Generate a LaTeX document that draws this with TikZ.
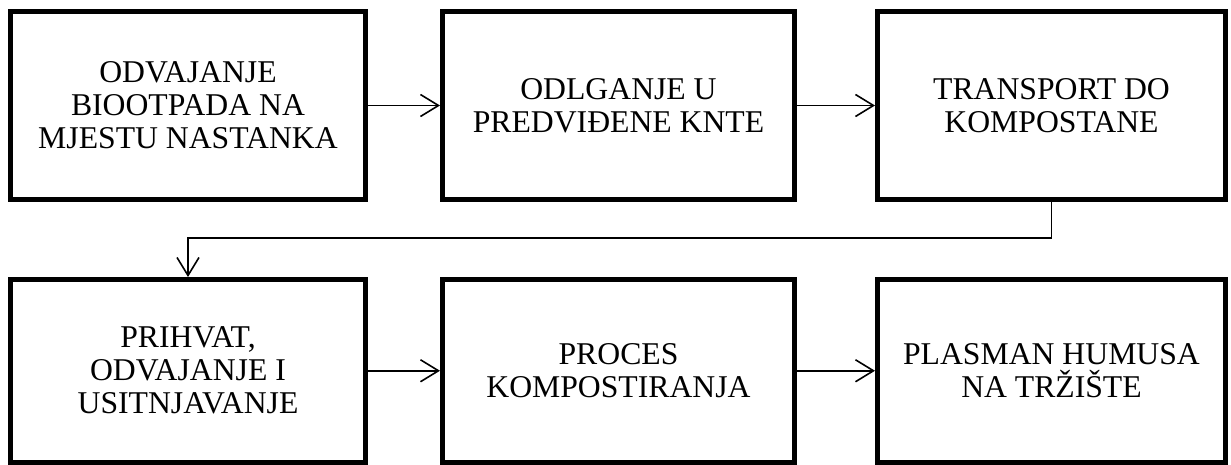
\documentclass[tikz,border=0pt]{standalone}
\usepackage{fontspec}
\setmainfont{Liberation Serif}
\usetikzlibrary{arrows.meta}
\begin{document}
\begin{tikzpicture}[x=1pt,y=-1pt,
  stepbox/.style={draw=black,line width=5pt,inner sep=0pt,align=center,
    font=\fontsize{31.7}{33}\selectfont,minimum height=188pt},
  lowbox/.style={stepbox,minimum height=182.5pt},
  flow/.style={line width=1.6pt,-{Straight Barb[length=18pt,width=22pt,line width=1.6pt]}}]
\useasboundingbox (0,0) rectangle (1231,464);
\node[stepbox,minimum width=355pt] (b1) at (188,105.5) {ODVAJANJE\\BIOOTPADA NA\\MJESTU NASTANKA};
\node[stepbox,minimum width=352pt] (b2) at (618.5,105.5) {ODLGANJE U\\PREDVIĐENE KNTE};
\node[stepbox,minimum width=348pt] (b3) at (1051.5,105.5) {TRANSPORT DO\\KOMPOSTANE};
\node[lowbox,minimum width=355pt] (b4) at (188,370.75) {PRIHVAT,\\ODVAJANJE I\\USITNJAVANJE};
\node[lowbox,minimum width=352pt] (b5) at (618.5,370.75) {PROCES\\KOMPOSTIRANJA};
\node[lowbox,minimum width=348pt] (b6) at (1051.5,370.75) {PLASMAN HUMUSA\\NA TRŽIŠTE};
\draw[flow] (b1.east) -- (b2.west);
\draw[flow] (b2.east) -- (b3.west);
\draw[flow] (b4.east) -- (b5.west);
\draw[flow] (b5.east) -- (b6.west);
\draw[flow] (b3.south) -- (b3.south |- 0,238) -| (b4.north);
\end{tikzpicture}
\end{document}
